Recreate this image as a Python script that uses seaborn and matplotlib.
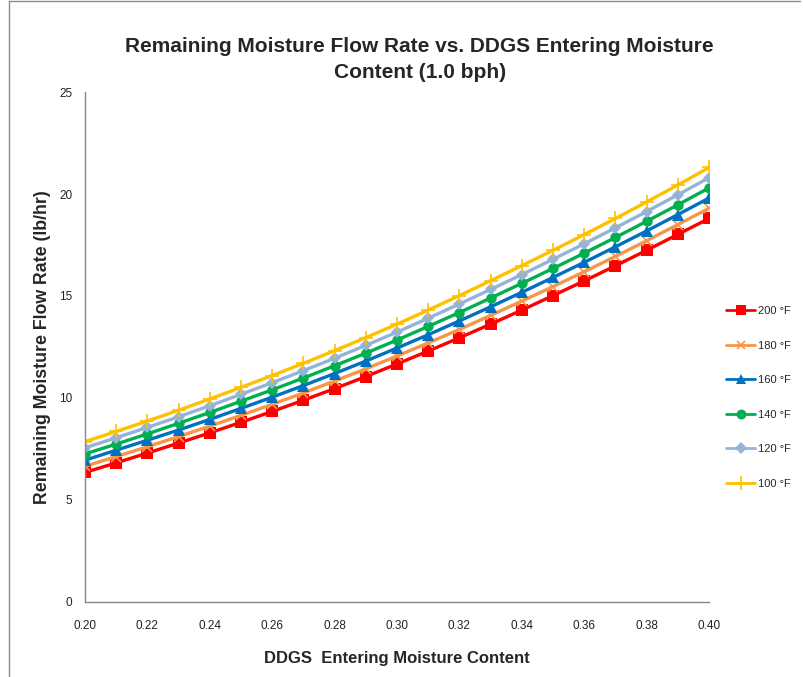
import matplotlib
matplotlib.use("Agg")
import matplotlib.pyplot as plt
from matplotlib.lines import Line2D
import numpy as np
import pandas as pd
import seaborn as sns

# Entering moisture content (wet basis fraction)
moisture = [0.20, 0.21, 0.22, 0.23, 0.24, 0.25, 0.26, 0.27, 0.28, 0.29, 0.30,
            0.31, 0.32, 0.33, 0.34, 0.35, 0.36, 0.37, 0.38, 0.39, 0.40]

# Remaining moisture flow rate (lb/hr) for each drying air temperature
flow_200 = [6.35, 6.82, 7.30, 7.79, 8.29, 8.81, 9.34, 9.89, 10.46, 11.05, 11.67,
            12.30, 12.95, 13.62, 14.31, 15.02, 15.74, 16.48, 17.24, 18.02, 18.80]
flow_180 = [6.65, 7.13, 7.61, 8.11, 8.62, 9.15, 9.69, 10.25, 10.83, 11.43, 12.06,
            12.70, 13.36, 14.05, 14.75, 15.46, 16.19, 16.94, 17.71, 18.50, 19.30]
flow_160 = [6.95, 7.44, 7.93, 8.43, 8.95, 9.49, 10.04, 10.61, 11.20, 11.81, 12.45,
            13.10, 13.78, 14.47, 15.18, 15.91, 16.65, 17.41, 18.19, 18.99, 19.80]
flow_140 = [7.26, 7.74, 8.24, 8.76, 9.29, 9.84, 10.40, 10.98, 11.58, 12.20, 12.84,
            13.51, 14.19, 14.90, 15.62, 16.35, 17.10, 17.87, 18.66, 19.47, 20.30]
flow_120 = [7.56, 8.05, 8.56, 9.08, 9.62, 10.18, 10.75, 11.34, 11.95, 12.58, 13.23,
            13.91, 14.61, 15.32, 16.05, 16.80, 17.56, 18.34, 19.14, 19.96, 20.80]
flow_100 = [7.86, 8.36, 8.87, 9.40, 9.95, 10.52, 11.10, 11.70, 12.32, 12.96, 13.62,
            14.31, 15.02, 15.75, 16.49, 17.24, 18.01, 18.80, 19.61, 20.44, 21.30]

labels = ["200 °F", "180 °F", "160 °F", "140 °F", "120 °F", "100 °F"]
series = [flow_200, flow_180, flow_160, flow_140, flow_120, flow_100]

x_ticks = [0.20, 0.22, 0.24, 0.26, 0.28, 0.30, 0.32, 0.34, 0.36, 0.38, 0.40]
y_ticks = [0, 5, 10, 15, 20, 25]

styles = {
    "200 °F": dict(color="#FF0000", marker="s", markersize=8.0, mew=0),
    "180 °F": dict(color="#F79646", marker="x", markersize=6.5, mew=1.2),
    "160 °F": dict(color="#0070C0", marker="^", markersize=8.0, mew=0),
    "140 °F": dict(color="#00B050", marker="o", markersize=7.5, mew=0),
    "120 °F": dict(color="#95B3D7", marker="D", markersize=6.0, mew=0),
    "100 °F": dict(color="#FFC000", marker="+", markersize=10, mew=1.2),
}

df = pd.DataFrame({"moisture": moisture})
for lab, vals in zip(labels, series):
    df[lab] = vals

sns.set_style("white")
plt.rcParams["font.family"] = ["Liberation Sans", "DejaVu Sans"]

fig = plt.figure(figsize=(8.04, 6.77), dpi=100)
ax = fig.add_axes([0.1057, 0.1108, 0.7762, 0.7533])

for lab in labels:
    st = styles[lab]
    sns.lineplot(data=df, x="moisture", y=lab, ax=ax, color=st["color"],
                 marker=st["marker"], markersize=st["markersize"],
                 markeredgewidth=st["mew"], markeredgecolor=st["color"],
                 linewidth=2.4, label=lab, legend=False)

ax.set_xlim(0.20, 0.40)
ax.set_ylim(0, 25)
ax.set_xticks(x_ticks)
ax.set_xticklabels([f"{v:.2f}" for v in x_ticks])
ax.set_yticks(y_ticks)

for side in ["top", "right"]:
    ax.spines[side].set_visible(False)
for side in ["left", "bottom"]:
    ax.spines[side].set_color("#888888")
    ax.spines[side].set_linewidth(1.0)
ax.tick_params(axis="both", direction="inout", length=6, width=1.0,
               color="#888888", labelsize=8.5, labelcolor="#222222")
ax.tick_params(axis="x", pad=10)
ax.tick_params(axis="y", pad=6)
ax.grid(False)

ax.set_xlabel("DDGS  Entering Moisture Content", fontsize=12, fontweight="bold",
              labelpad=14)
ax.set_ylabel("Remaining Moisture Flow Rate (lb/hr)", fontsize=12.8,
              fontweight="bold", labelpad=6)

fig.text(0.522, 0.912, "Remaining Moisture Flow Rate vs. DDGS Entering Moisture\nContent (1.0 bph)",
         ha="center", va="center", fontsize=15, fontweight="bold", linespacing=1.45)

handles = [Line2D([0], [0], color=styles[l]["color"], marker=styles[l]["marker"],
                  markersize=styles[l]["markersize"] * 0.95,
                  markeredgewidth=styles[l]["mew"],
                  markeredgecolor=styles[l]["color"], linewidth=2.0)
           for l in labels]
fig.legend(handles, labels, loc="center left", bbox_to_anchor=(0.898, 0.413),
           frameon=False, fontsize=8, labelspacing=2.2, handlelength=2.6,
           handletextpad=0.2, borderaxespad=0)

# outer chart frame
fig.add_artist(Line2D([0.0112, 0.0112], [0.0, 0.998], transform=fig.transFigure,
                      color="#8c8c8c", linewidth=1.0))
fig.add_artist(Line2D([0.0112, 0.995], [0.998, 0.998], transform=fig.transFigure,
                      color="#8c8c8c", linewidth=1.0))

fig.savefig("out.png", dpi=100, facecolor="white")
